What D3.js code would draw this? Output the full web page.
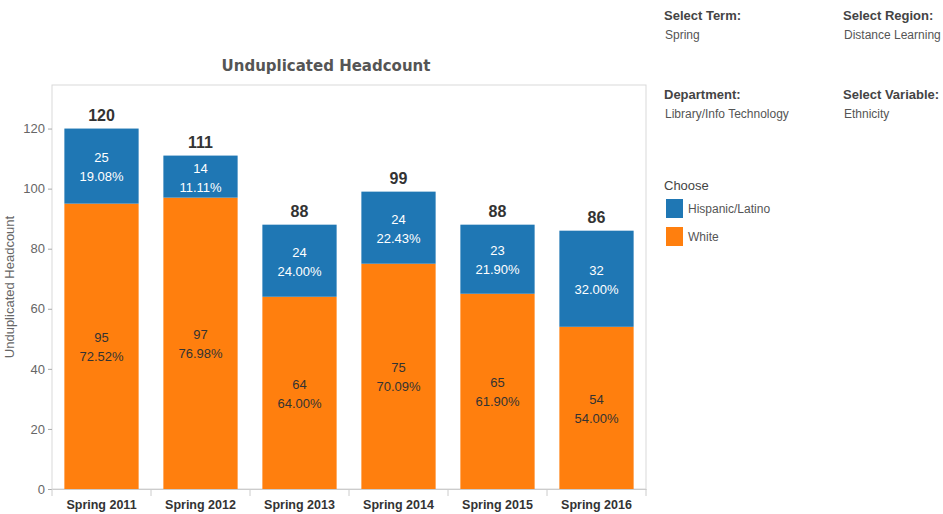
<!DOCTYPE html>
<html>
<head>
<meta charset="utf-8">
<script src="https://cdn.jsdelivr.net/npm/d3@7"></script>
<style>
	body { margin: 0; background: #fff; }
	text { font-family: "Liberation Sans", Arial, sans-serif; }
</style>
</head>
<body>
<div id="canvas"></div>
<script>
// Data
const terms = ['Spring 2011', 'Spring 2012', 'Spring 2013', 'Spring 2014', 'Spring 2015', 'Spring 2016']
const hispanic = [25, 14, 24, 24, 23, 32]
const white = [95, 97, 64, 75, 65, 54]
const hispanicPct = ['19.08%', '11.11%', '24.00%', '22.43%', '21.90%', '32.00%']
const whitePct = ['72.52%', '76.98%', '64.00%', '70.09%', '61.90%', '54.00%']
const yTicks = [0, 20, 40, 60, 80, 100, 120]
const legendItems = ['Hispanic/Latino', 'White']
const filters = [
	{label: 'Select Term:', value: 'Spring'},
	{label: 'Select Region:', value: 'Distance Learning'},
	{label: 'Department:', value: 'Library/Info Technology'},
	{label: 'Select Variable:', value: 'Ethnicity'},
]

const colors = {
	blue: '#1f77b4',
	orange: '#ff7f0e',
	axis: '#666',
	dark: '#333',
	frame: '#d9d9d9',
}

const width = 943, height = 514
const plot = {left: 52, right: 646, top: 85, bottom: 489}

const svg = d3.select('#canvas').append('svg')
	.attr('width', width).attr('height', height)

const rows = terms.map((t, i) => ({term: t, white: white[i], hispanic: hispanic[i], i}))
const stacked = d3.stack().keys(['white', 'hispanic'])(rows)

const x = d3.scaleBand().domain(terms).range([plot.left, plot.right]).paddingInner(0.25).paddingOuter(0.125)
const y = d3.scaleLinear().domain([0, 134.5]).range([plot.bottom, plot.top])
const color = d3.scaleOrdinal().domain(['hispanic', 'white']).range([colors.blue, colors.orange])

// Frame
svg.append('rect')
	.attr('x', plot.left).attr('y', plot.top)
	.attr('width', plot.right - plot.left).attr('height', plot.bottom - plot.top)
	.attr('fill', 'none').attr('stroke', colors.frame)

// Title
svg.append('text')
	.attr('x', 326).attr('y', 71)
	.attr('text-anchor', 'middle')
	.style('font-family', '"DejaVu Sans", sans-serif')
	.attr('font-size', 15).attr('font-weight', 'bold')
	.attr('fill', '#555')
	.text('Unduplicated Headcount')

// Y axis
const yAxis = svg.append('g')
	.attr('transform', `translate(${plot.left},0)`)
	.call(d3.axisLeft(y).tickValues(yTicks).tickSize(4).tickPadding(3))
yAxis.select('.domain').remove()
yAxis.selectAll('line').attr('stroke', '#aaa')
yAxis.selectAll('text').attr('font-size', 13).attr('fill', colors.axis)
	.style('font-family', '"Liberation Sans", Arial, sans-serif')

svg.append('text')
	.attr('transform', `translate(14,${(plot.top + plot.bottom) / 2}) rotate(-90)`)
	.attr('text-anchor', 'middle')
	.attr('font-size', 13).attr('fill', colors.axis)
	.text('Unduplicated Headcount')

// X axis
const xAxis = svg.append('g')
	.attr('transform', `translate(0,${plot.bottom})`)
	.call(d3.axisBottom(x).tickSize(0).tickPadding(11))
xAxis.select('.domain').attr('stroke', '#ccc')
xAxis.selectAll('text').attr('font-size', 12.5).attr('font-weight', 'bold').attr('fill', colors.dark)
	.style('font-family', '"Liberation Sans", Arial, sans-serif')
// separator ticks between bands
const step = x.step()
svg.append('g').selectAll('line')
	.data(d3.range(terms.length + 1))
	.join('line')
	.attr('x1', i => plot.left + i * step).attr('x2', i => plot.left + i * step)
	.attr('y1', plot.bottom).attr('y2', plot.bottom + 7)
	.attr('stroke', '#ccc')

// Bars
const layer = svg.append('g').selectAll('g')
	.data(stacked).join('g')
	.attr('fill', d => color(d.key))

layer.selectAll('rect')
	.data(d => d)
	.join('rect')
	.attr('x', d => x(d.data.term))
	.attr('width', x.bandwidth())
	.attr('y', d => y(d[1]))
	.attr('height', d => y(d[0]) - y(d[1]))

// Segment labels
stacked.forEach(s => {
	const isBlue = s.key === 'hispanic'
	const pcts = isBlue ? hispanicPct : whitePct
	const g = svg.append('g')
	s.forEach((d, i) => {
		const cx = x(d.data.term) + x.bandwidth() / 2
		const cy = (y(d[0]) + y(d[1])) / 2
		const t = g.append('text')
			.attr('text-anchor', 'middle')
			.attr('font-size', 13)
			.attr('fill', isBlue ? '#fff' : colors.dark)
		t.append('tspan').attr('x', cx).attr('y', cy - 4).text(d.data[s.key])
		t.append('tspan').attr('x', cx).attr('y', cy + 15).text(pcts[i])
	})
})

// Totals
svg.append('g').selectAll('text')
	.data(rows)
	.join('text')
	.attr('x', d => x(d.term) + x.bandwidth() / 2)
	.attr('y', d => y(d.white + d.hispanic) - 8)
	.attr('text-anchor', 'middle')
	.attr('font-size', 16).attr('font-weight', 'bold')
	.attr('fill', colors.dark)
	.text(d => d.white + d.hispanic)

// Filters panel
const panel = svg.append('g')
filters.forEach((f, i) => {
	const fx = i % 2 === 0 ? 664 : 843
	const fy = i < 2 ? 20 : 99
	panel.append('text').attr('x', fx).attr('y', fy)
		.attr('font-size', 13).attr('font-weight', 'bold').attr('fill', '#444')
		.text(f.label)
	panel.append('text').attr('x', fx + 1).attr('y', fy + 19)
		.attr('font-size', 12).attr('fill', '#555')
		.text(f.value)
})

// Legend
panel.append('text').attr('x', 664).attr('y', 190)
	.attr('font-size', 13).attr('fill', '#444')
	.text('Choose')
const legend = panel.selectAll('.legend-item')
	.data(legendItems).join('g')
	.classed('legend-item', true)
	.attr('transform', (d, i) => `translate(666,${199 + i * 28})`)
legend.append('rect')
	.attr('width', 17).attr('height', 19)
	.attr('fill', (d, i) => i === 0 ? colors.blue : colors.orange)
legend.append('text')
	.attr('x', 22).attr('y', 14)
	.attr('font-size', 12).attr('fill', '#555')
	.text(d => d)
</script>
</body>
</html>
